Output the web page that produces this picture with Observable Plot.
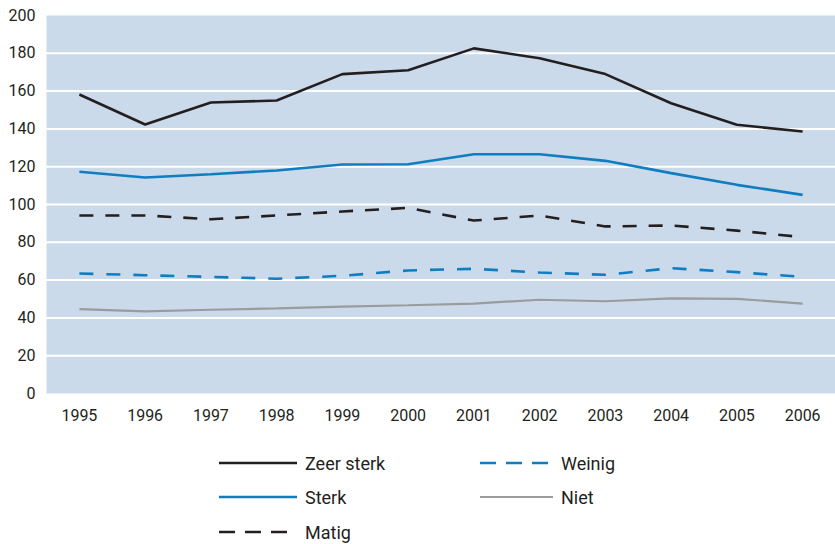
<!DOCTYPE html>
<html>
<head>
<meta charset="utf-8">
<script src="https://cdn.jsdelivr.net/npm/d3@7"></script>
<script src="https://cdn.jsdelivr.net/npm/@observablehq/plot@0.6"></script>
<style>
  body { margin: 0; background: #fff; font-family: Roboto, "Liberation Sans", sans-serif; }
  #wrap { position: relative; width: 835px; height: 544px; }
  #legend { position: absolute; left: 0; top: 0; width: 835px; height: 544px; pointer-events: none; }
  .item { position: absolute; display: flex; align-items: center; font-size: 18px; color: #231f20; }
  .item svg { margin-right: 8px; }
</style>
</head>
<body>
<div id="wrap"><div id="chart"></div><div id="legend"></div></div>
<script>
const years = [1995, 1996, 1997, 1998, 1999, 2000, 2001, 2002, 2003, 2004, 2005, 2006];
const zeerSterk = [158.2, 142.3, 154, 155, 169, 171, 182.6, 177.4, 169, 153.6, 142.2, 138.6];
const sterk     = [117.3, 114.3, 116, 118, 121.2, 121.3, 126.6, 126.6, 123.1, 116.6, 110.4, 105.1];
const matig     = [94.2, 94.2, 92.2, 94.2, 96.3, 98.2, 91.5, 94.2, 88.4, 88.9, 86.2, 82.7];
const weinig    = [63.5, 62.6, 61.7, 60.7, 62.3, 65.1, 66, 64, 62.8, 66.3, 64.2, 61.7];
const niet      = [44.6, 43.5, 44.3, 45, 46, 46.7, 47.6, 49.6, 48.8, 50.3, 50.1, 47.6];
const seriesNames = ["Zeer sterk", "Sterk", "Matig", "Weinig", "Niet"];
const yTicks = [0, 20, 40, 60, 80, 100, 120, 140, 160, 180, 200];

const styles = {
  "Zeer sterk": {stroke: "#231f20", width: 2.6, dash: null},
  "Sterk": {stroke: "#0f7dc0", width: 2.6, dash: null},
  "Matig": {stroke: "#231f20", width: 2.6, dash: "14,12"},
  "Weinig": {stroke: "#0f7dc0", width: 2.6, dash: "14,13"},
  "Niet": {stroke: "#9a9b9d", width: 2.2, dash: null}
};
const valueArrays = [zeerSterk, sterk, matig, weinig, niet];
const data = seriesNames.map((name, i) => years.map((y, j) => ({series: name, year: y, value: valueArrays[i][j]})));

const marks = [
  Plot.frame({fill: "#cbdaea", stroke: null}),
  Plot.gridY(yTicks.filter(d => d > 0 && d < 200), {stroke: "#ffffff", strokeOpacity: 1, strokeWidth: 2}),
  Plot.axisY(yTicks, {tickSize: 0, tickPadding: 11, fontSize: 16, fill: "#231f20", label: null}),
  Plot.axisX(years, {tickSize: 0, tickPadding: 16, fontSize: 16, fill: "#231f20", label: null, tickFormat: d => String(d)})
];
data.forEach(d => {
  const s = styles[d[0].series];
  marks.push(Plot.line(d, {x: "year", y: "value", stroke: s.stroke, strokeWidth: s.width, strokeDasharray: s.dash, strokeLinejoin: "miter", strokeLinecap: "butt"}));
});

const chart = Plot.plot({
  width: 835,
  height: 432,
  marginLeft: 46,
  marginRight: 0,
  marginTop: 15,
  marginBottom: 39,
  style: {fontFamily: "Roboto, 'Liberation Sans', sans-serif", background: "#fff"},
  x: {domain: [1994.5, 2006.5], label: null},
  y: {domain: [0, 200], label: null},
  marks
});
document.getElementById("chart").appendChild(chart);

// legend
const legendPos = {
  "Zeer sterk": [219, 463, 78],
  "Sterk": [219, 497, 78],
  "Matig": [219, 532, 78],
  "Weinig": [480, 463, 73],
  "Niet": [480, 497, 73]
};
const legend = document.getElementById("legend");
seriesNames.forEach(name => {
  const [x, y, w] = legendPos[name];
  const s = styles[name];
  const div = document.createElement("div");
  div.className = "item";
  div.style.left = x + "px";
  div.style.top = (y - 12) + "px";
  div.style.height = "24px";
  const dash = s.dash ? "16,10" : "";
  div.innerHTML = `<svg width="${w}" height="6"><line x1="0" x2="${w}" y1="3" y2="3" stroke="${s.stroke}" stroke-width="${s.width}" ${dash ? `stroke-dasharray="${dash}"` : ""}/></svg><span>${name}</span>`;
  legend.appendChild(div);
});
</script>
</body>
</html>
